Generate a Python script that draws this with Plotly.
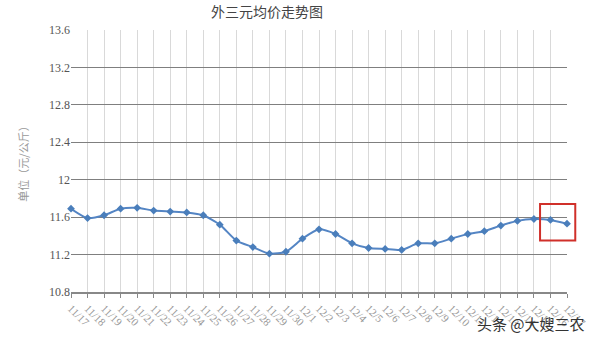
import plotly.graph_objects as go

dates = ["11/17", "11/18", "11/19", "11/20", "11/21", "11/22", "11/23", "11/24",
         "11/25", "11/26", "11/27", "11/28", "11/29", "11/30",
         "12/1", "12/2", "12/3", "12/4", "12/5", "12/6", "12/7", "12/8", "12/9",
         "12/10", "12/11", "12/12", "12/13", "12/14", "12/15", "12/16", "12/17"]
prices = [11.69, 11.59, 11.62, 11.69, 11.70, 11.67, 11.66, 11.65, 11.62, 11.52,
          11.35, 11.28, 11.21, 11.23, 11.37, 11.47, 11.42, 11.32, 11.27, 11.26,
          11.25, 11.32, 11.32, 11.37, 11.42, 11.45, 11.51, 11.56, 11.58, 11.57, 11.53]
y_ticks = [10.8, 11.2, 11.6, 12.0, 12.4, 12.8, 13.2, 13.6]
y_ticktext = ["10.8", "11.2", "11.6", "12", "12.4", "12.8", "13.2", "13.6"]

idx = list(range(len(dates)))
x_min, x_max = 0, len(dates) - 1

fig = go.Figure()
fig.add_trace(go.Scatter(
    x=idx, y=prices, mode="lines+markers",
    line=dict(color="#5485c4", width=2, shape="spline", smoothing=0.6),
    marker=dict(symbol="diamond", size=6, color="#4a7ebb"),
    cliponaxis=False, showlegend=False,
))

# highlight box around the last two points (paper coords so it may overhang the plot)
hl = prices[-2:]
def xp(v):
    return (v - x_min) / (x_max - x_min)
fig.add_shape(type="rect", xref="paper", yref="y",
              x0=xp(idx[-2] - 0.63), x1=xp(idx[-1] + 0.5),
              y0=min(hl) - 0.18, y1=max(hl) + 0.17,
              line=dict(color="#d0302a", width=2), layer="above")

fig.update_layout(
    width=600, height=342,
    margin=dict(l=71, r=30, t=30, b=50),
    paper_bgcolor="white", plot_bgcolor="white",
    title=dict(text="外三元均价走势图", x=0.445, xanchor="center", y=0.965, yanchor="middle",
               font=dict(family="Noto Sans CJK SC", size=14, color="#444")),
    xaxis=dict(
        range=[x_min, x_max], tickvals=idx, ticktext=dates, tickangle=45,
        showgrid=True, gridcolor="#d9d9d9", gridwidth=1,
        showline=True, linecolor="#888", linewidth=1.5,
        ticks="outside", ticklen=4, tickcolor="#888",
        tickfont=dict(family="Liberation Serif", size=11, color="#999"),
        zeroline=False,
    ),
    yaxis=dict(
        range=[10.8, 13.6], tickvals=y_ticks, ticktext=y_ticktext,
        showgrid=True, gridcolor="#7f7f7f", gridwidth=1,
        showline=False, zeroline=False, ticks="",
        tickfont=dict(family="Liberation Serif", size=12, color="#555"),
        title=dict(text="单位（元/公斤）", standoff=18,
                   font=dict(family="Noto Sans CJK SC", size=11, color="#999")),
    ),
)

fig.add_annotation(
    text="头条 @大嫂三农", xref="paper", yref="paper",
    x=1.04, y=-0.12, xanchor="right", yanchor="middle", showarrow=False,
    font=dict(family="Noto Sans CJK SC", size=15, color="#333"),
)

fig.write_html("out.html")
